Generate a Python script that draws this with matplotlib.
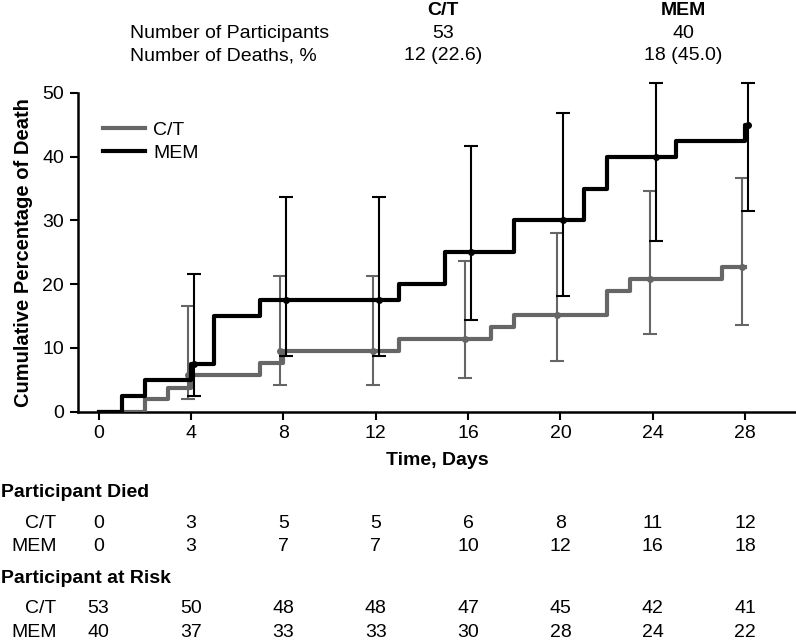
import matplotlib
matplotlib.use('Agg')
import matplotlib.pyplot as plt
import matplotlib.transforms as mtransforms

plt.rcParams['font.family'] = ['Liberation Sans', 'DejaVu Sans']

GREY = '#666666'
BLACK = '#000000'

# step curves (day of event, cumulative % death)
ct_days = [0, 2, 3, 4, 7, 8, 13, 17, 18, 22, 23, 27, 28]
ct_pct = [0, 1.89, 3.77, 5.66, 7.55, 9.43, 11.32, 13.21, 15.09, 18.87, 20.75, 22.64, 22.64]
mem_days = [0, 1, 2, 4, 5, 7, 13, 15, 18, 21, 22, 25, 28, 28.13]
mem_pct = [0, 2.5, 5, 7.5, 15, 17.5, 20, 25, 30, 35, 40, 42.5, 45, 45]

# estimates with 95% CI at the timepoints
time_pts = [4, 8, 12, 16, 20, 24, 28]
ct_est = [5.66, 9.43, 9.43, 11.32, 15.09, 20.75, 22.64]
ct_low = [2.0, 4.1, 4.1, 5.3, 7.9, 12.1, 13.6]
ct_high = [16.5, 21.3, 21.3, 23.6, 28.0, 34.6, 36.6]
mem_est = [7.5, 17.5, 17.5, 25, 30, 40, 45]
mem_low = [2.5, 8.7, 8.7, 14.4, 18.2, 26.7, 31.4]
mem_high = [21.6, 33.6, 33.6, 41.7, 46.9, 51.6, 51.6]

# tables
table_days = [0, 4, 8, 12, 16, 20, 24, 28]
ct_died = [0, 3, 5, 5, 6, 8, 11, 12]
mem_died = [0, 3, 7, 7, 10, 12, 16, 18]
ct_risk = [53, 50, 48, 48, 47, 45, 42, 41]
mem_risk = [40, 37, 33, 33, 30, 28, 24, 22]

groups = ['C/T', 'MEM']
n_participants = ['53', '40']
n_deaths = ['12 (22.6)', '18 (45.0)']

FS = 14

fig = plt.figure(figsize=(7.96, 6.41), dpi=100)
ax = fig.add_axes([0.098, 0.358, 0.902, 0.497])

ax.step(ct_days, ct_pct, where='post', color=GREY, lw=3.0, label='C/T', zorder=3)
ax.step(mem_days, mem_pct, where='post', color=BLACK, lw=3.0, label='MEM', zorder=4)

off = 0.13
ct_x = [t - off for t in time_pts]
mem_x = [t + off for t in time_pts]
ax.errorbar(ct_x, ct_est,
            yerr=[[e - l for e, l in zip(ct_est, ct_low)], [h - e for e, h in zip(ct_est, ct_high)]],
            fmt='o', ms=4, color=GREY, ecolor=GREY, elinewidth=1.5, capsize=5, capthick=1.5,
            clip_on=False, zorder=3)
ax.errorbar(mem_x, mem_est,
            yerr=[[e - l for e, l in zip(mem_est, mem_low)], [h - e for e, h in zip(mem_est, mem_high)]],
            fmt='o', ms=4, color=BLACK, ecolor=BLACK, elinewidth=1.5, capsize=5, capthick=1.5,
            clip_on=False, zorder=4)

ax.set_xlim(-0.89, 30.2)
ax.set_ylim(0, 50)
ax.set_xticks(table_days)
ax.set_yticks([0, 10, 20, 30, 40, 50])
ax.tick_params(axis='both', labelsize=FS, width=1.5, length=6, direction='out', pad=4)
for s in ['top', 'right']:
    ax.spines[s].set_visible(False)
for s in ['left', 'bottom']:
    ax.spines[s].set_linewidth(1.8)

ax.set_xlabel('Time, Days', fontsize=FS, fontweight='bold', labelpad=7)
ax.set_ylabel('Cumulative Percentage of Death', fontsize=14.5, fontweight='bold', labelpad=7)

ax.legend(loc='upper left', bbox_to_anchor=(0.01, 0.965), frameon=False, fontsize=FS,
          handlelength=2.2, handletextpad=0.4, labelspacing=0.25)

# header
fig.text(0.163, 0.948, 'Number of Participants', fontsize=FS, va='center')
fig.text(0.163, 0.913, 'Number of Deaths, %', fontsize=FS, va='center')
for gx, g, n, d in zip([0.557, 0.858], groups, n_participants, n_deaths):
    fig.text(gx, 0.984, g, fontsize=FS, fontweight='bold', ha='center', va='center')
    fig.text(gx, 0.948, n, fontsize=FS, ha='center', va='center')
    fig.text(gx, 0.913, d, fontsize=FS, ha='center', va='center')

# tables under the axis
trans = mtransforms.blended_transform_factory(ax.transData, fig.transFigure)
fig.text(0.001, 0.231, 'Participant Died', fontsize=FS, fontweight='bold', va='center')
fig.text(0.001, 0.098, 'Participant at Risk', fontsize=FS, fontweight='bold', va='center')
rows = [(0.184, 'C/T', ct_died), (0.148, 'MEM', mem_died),
        (0.051, 'C/T', ct_risk), (0.014, 'MEM', mem_risk)]
for ry, name, vals in rows:
    fig.text(0.071, ry, name, fontsize=FS, ha='right', va='center')
    for d, v in zip(table_days, vals):
        fig.text(d, ry, str(v), fontsize=FS, ha='center', va='center', transform=trans)

fig.savefig('out.png', dpi=100)
